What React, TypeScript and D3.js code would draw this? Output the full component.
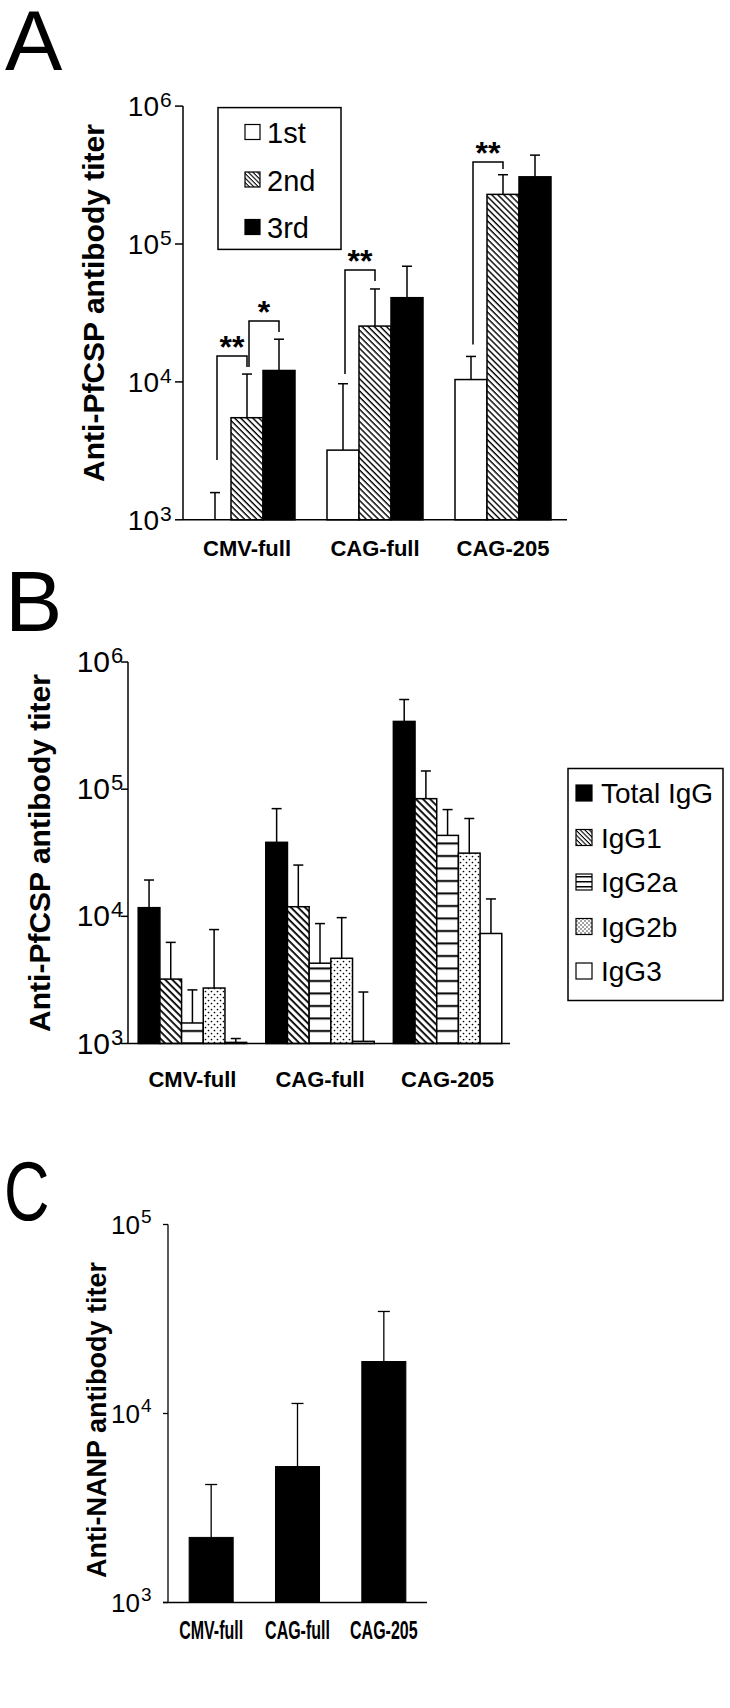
import React from "react";
import * as d3 from "d3";

// ---------- DATA ----------
const categories = ["CMV-full", "CAG-full", "CAG-205"];

// Panel A: anti-PfCSP titer after each immunization
const doseLabels = ["1st", "2nd", "3rd"];
const dose1Mean = [1000, 3200, 10400];
const dose1Upper = [1575, 9700, 15300];
const dose2Mean = [5500, 25400, 229000];
const dose2Upper = [11400, 47200, 318000];
const dose3Mean = [12100, 40800, 307000];
const dose3Upper = [20400, 69000, 441000];
const tickExpA = [3, 4, 5, 6];

// significance brackets (panel A)
const sigGroup = [0, 0, 1, 2];
const sigFrom = [0, 1, 0, 0];
const sigTo = [1, 2, 1, 1];
const sigLevel = [15400, 27650, 64800, 394000];
const sigFromEnd = [2710, 12830, 11410, 18640];
const sigToEnd = [12830, 23000, 53900, 350000];
const sigLabel = ["**", "*", "**", "**"];

// Panel B: IgG subclasses
const subclassLabels = ["Total IgG", "IgG1", "IgG2a", "IgG2b", "IgG3"];
const totalIgGMean = [11700, 38200, 341000];
const totalIgGUpper = [19300, 70300, 507000];
const igg1Mean = [3210, 11900, 84200];
const igg1Upper = [6240, 25300, 139000];
const igg2aMean = [1450, 4280, 43300];
const igg2aUpper = [2640, 8770, 69100];
const igg2bMean = [2730, 4680, 31400];
const igg2bUpper = [7870, 9770, 58800];
const igg3Mean = [1020, 1040, 7330];
const igg3Upper = [1094, 2540, 13700];
const tickExpB = [3, 4, 5, 6];

// Panel C: anti-NANP titer
const nanpMean = [2210, 5240, 18840];
const nanpUpper = [4210, 11300, 34660];
const tickExpC = [3, 4, 5];

const FONT = "'Liberation Sans', Arial, Helvetica, sans-serif";

type Series = { name: string; mean: number[]; upper: number[]; fill: string };

function BarGroupChart(props: {
  series: Series[];
  x: d3.ScaleBand<string>;
  y: d3.ScaleLogarithmic<number, number>;
  capHalf: number;
  lineW: number;
  errW: number;
}) {
  const { series, x, y, capHalf, lineW, errW } = props;
  const sub = d3
    .scaleBand<string>()
    .domain(series.map((s) => s.name))
    .range([0, x.bandwidth()]);
  const base = y(1000);
  const out: React.ReactNode[] = [];
  categories.forEach((cat, ci) => {
    series.forEach((s) => {
      const x0 = (x(cat) as number) + (sub(s.name) as number);
      const w = sub.bandwidth();
      const yt = y(s.mean[ci]);
      const cx = x0 + w / 2;
      const ye = y(s.upper[ci]);
      out.push(
        <g key={cat + s.name}>
          <line x1={cx} x2={cx} y1={yt} y2={ye} stroke="#000" strokeWidth={errW} />
          <line x1={cx - capHalf} x2={cx + capHalf} y1={ye} y2={ye} stroke="#000" strokeWidth={errW} />
          <rect x={x0} y={yt} width={w} height={Math.max(0, base - yt)} fill={s.fill} stroke="#000" strokeWidth={lineW} />
        </g>
      );
    });
  });
  return <g>{out}</g>;
}

function LogAxis(props: {
  y: d3.ScaleLogarithmic<number, number>;
  exps: number[];
  axisX: number;
  tickLen: number;
  labelEnd: number;
  fontSize: number;
  supSize: number;
  baseOff: number;
  supOff: number;
  lineW: number;
}) {
  const { y, exps, axisX, tickLen, labelEnd, fontSize, supSize, baseOff, supOff, lineW } = props;
  const [d0, d1] = y.domain();
  return (
    <g fontFamily={FONT}>
      <line x1={axisX} x2={axisX} y1={y(d0)} y2={y(d1)} stroke="#000" strokeWidth={lineW} />
      {exps.map((e) => {
        const v = Math.pow(10, e);
        const yy = y(v);
        return (
          <g key={e}>
            <line x1={axisX - tickLen} x2={axisX} y1={yy} y2={yy} stroke="#000" strokeWidth={lineW} />
            <text x={labelEnd} y={yy + baseOff} textAnchor="end" fontSize={fontSize}>
              10
            </text>
            <text x={labelEnd + 1} y={yy + supOff} fontSize={supSize}>
              {String(e)}
            </text>
          </g>
        );
      })}
    </g>
  );
}

export default function App() {
  // ---------------- Panel A ----------------
  const xA = d3.scaleBand<string>().domain(categories).range([183, 567]).paddingInner(0.25).paddingOuter(0.125);
  const yA = d3.scaleLog().domain([1000, 1e6]).range([519.8, 106.1]);
  const seriesA: Series[] = [
    { name: doseLabels[0], mean: dose1Mean, upper: dose1Upper, fill: "#fff" },
    { name: doseLabels[1], mean: dose2Mean, upper: dose2Upper, fill: "url(#hatchA)" },
    { name: doseLabels[2], mean: dose3Mean, upper: dose3Upper, fill: "#000" },
  ];
  const subA = d3.scaleBand<string>().domain(doseLabels).range([0, xA.bandwidth()]);
  const centerA = (g: number, s: number) =>
    (xA(categories[g]) as number) + (subA(doseLabels[s]) as number) + subA.bandwidth() / 2;

  // ---------------- Panel B ----------------
  const xB = d3.scaleBand<string>().domain(categories).range([128, 512]).paddingInner(0.15).paddingOuter(0.08);
  const yB = d3.scaleLog().domain([1000, 1e6]).range([1043.5, 662]);
  const seriesB: Series[] = [
    { name: subclassLabels[0], mean: totalIgGMean, upper: totalIgGUpper, fill: "#000" },
    { name: subclassLabels[1], mean: igg1Mean, upper: igg1Upper, fill: "url(#hatchB)" },
    { name: subclassLabels[2], mean: igg2aMean, upper: igg2aUpper, fill: "url(#hlines)" },
    { name: subclassLabels[3], mean: igg2bMean, upper: igg2bUpper, fill: "url(#dots)" },
    { name: subclassLabels[4], mean: igg3Mean, upper: igg3Upper, fill: "#fff" },
  ];
  const legendFillB = ["#000", "url(#hatchLeg)", "url(#hlinesLeg)", "url(#dotsLeg)", "#fff"];

  // ---------------- Panel C ----------------
  const xC = d3.scaleBand<string>().domain(categories).range([168, 427]).paddingInner(0.49).paddingOuter(0.245);
  const yC = d3.scaleLog().domain([1000, 1e5]).range([1602.5, 1224.5]);
  const seriesC: Series[] = [{ name: "NANP", mean: nanpMean, upper: nanpUpper, fill: "#000" }];

  return (
    <svg
      width={730}
      height={1708}
      viewBox="0 0 730 1708"
      style={{ position: "absolute", left: 0, top: 0, display: "block", background: "#fff" }}
      fontFamily={FONT}
    >
      <defs>
        <pattern id="hatchA" patternUnits="userSpaceOnUse" width={4.3} height={4.3} patternTransform="rotate(45)">
          <rect width={4.3} height={4.3} fill="#fff" />
          <rect width={4.3} height={1.4} fill="#000" />
        </pattern>
        <pattern id="hatchB" patternUnits="userSpaceOnUse" width={5} height={5} patternTransform="rotate(45)">
          <rect width={5} height={5} fill="#fff" />
          <rect width={5} height={1.8} fill="#000" />
        </pattern>
        <pattern id="hatchLeg" patternUnits="userSpaceOnUse" width={3.2} height={3.2} patternTransform="rotate(45)">
          <rect width={3.2} height={3.2} fill="#fff" />
          <rect width={3.2} height={1.1} fill="#000" />
        </pattern>
        <pattern id="hlines" patternUnits="userSpaceOnUse" width={10} height={12.5}>
          <rect width={10} height={12.5} fill="#fff" />
          <rect y={5} width={10} height={2} fill="#000" />
        </pattern>
        <pattern id="hlinesLeg" patternUnits="userSpaceOnUse" width={10} height={5}>
          <rect width={10} height={5} fill="#fff" />
          <rect y={1} width={10} height={1.5} fill="#000" />
        </pattern>
        <pattern id="dots" patternUnits="userSpaceOnUse" width={6} height={6}>
          <rect width={6} height={6} fill="#fff" />
          <circle cx={1.5} cy={1.5} r={0.85} fill="#000" />
          <circle cx={4.5} cy={4.5} r={0.85} fill="#000" />
        </pattern>
        <pattern id="dotsLeg" patternUnits="userSpaceOnUse" width={4} height={4}>
          <rect width={4} height={4} fill="#fff" />
          <circle cx={1} cy={1} r={0.7} fill="#000" />
          <circle cx={3} cy={3} r={0.7} fill="#000" />
        </pattern>
      </defs>
      <rect width={730} height={1708} fill="#fff" />

      {/* ================= Panel A ================= */}
      <text x={5} y={70} fontSize={86}>A</text>
      <LogAxis y={yA} exps={tickExpA} axisX={183} tickLen={8} labelEnd={159} fontSize={28} supSize={21} baseOff={10} supOff={1} lineW={1.5} />
      <text transform="translate(104,303) rotate(-90)" textAnchor="middle" fontSize={30} fontWeight="bold">
        Anti-PfCSP antibody titer
      </text>
      <BarGroupChart series={seriesA} x={xA} y={yA} capHalf={5} lineW={1.5} errW={1.5} />
      <line x1={183} x2={567} y1={yA(1000)} y2={yA(1000)} stroke="#000" strokeWidth={1.5} />
      {categories.map((c) => (
        <text key={c} x={(xA(c) as number) + xA.bandwidth() / 2} y={556} textAnchor="middle" fontSize={22} fontWeight="bold">
          {c}
        </text>
      ))}
      {sigLabel.map((lab, i) => {
        const xl = centerA(sigGroup[i], sigFrom[i]) + 2;
        const xr = centerA(sigGroup[i], sigTo[i]);
        const yl = yA(sigLevel[i]);
        return (
          <g key={i}>
            <path
              d={`M${xl},${yA(sigFromEnd[i])}V${yl}H${xr}V${yA(sigToEnd[i])}`}
              fill="none"
              stroke="#000"
              strokeWidth={1.5}
            />
            <text x={(xl + xr) / 2} y={yl + 2} textAnchor="middle" fontSize={32} fontWeight="bold">
              {lab}
            </text>
          </g>
        );
      })}
      {/* legend A */}
      <rect x={218} y={107.6} width={123} height={141.8} fill="#fff" stroke="#000" strokeWidth={1.5} />
      {seriesA.map((s, i) => {
        const cy = 132 + i * 47.5;
        return (
          <g key={s.name}>
            <rect x={245} y={cy - 7.5} width={15} height={15} fill={i === 1 ? "url(#hatchLeg)" : s.fill} stroke="#000" strokeWidth={1.2} />
            <text x={267} y={cy + 11} fontSize={29}>
              {s.name}
            </text>
          </g>
        );
      })}

      {/* ================= Panel B ================= */}
      <text x={5} y={631} fontSize={86}>B</text>
      <LogAxis y={yB} exps={tickExpB} axisX={128} tickLen={7} labelEnd={110} fontSize={30} supSize={22} baseOff={10} supOff={1} lineW={1.5} />
      <text transform="translate(50,853) rotate(-90)" textAnchor="middle" fontSize={30} fontWeight="bold">
        Anti-PfCSP antibody titer
      </text>
      <BarGroupChart series={seriesB} x={xB} y={yB} capHalf={5} lineW={1.5} errW={1.5} />
      <line x1={128} x2={510} y1={yB(1000)} y2={yB(1000)} stroke="#000" strokeWidth={1.5} />
      {categories.map((c) => (
        <text key={c} x={(xB(c) as number) + xB.bandwidth() / 2} y={1087} textAnchor="middle" fontSize={22} fontWeight="bold">
          {c}
        </text>
      ))}
      {/* legend B */}
      <rect x={568} y={768.5} width={155} height={232} fill="#fff" stroke="#000" strokeWidth={1.5} />
      {seriesB.map((s, i) => {
        const cy = 793 + i * 44.5;
        return (
          <g key={s.name}>
            <rect x={576} y={cy - 8} width={16} height={16} fill={legendFillB[i]} stroke="#000" strokeWidth={1.2} />
            <text x={601} y={cy + 10} fontSize={28}>
              {s.name}
            </text>
          </g>
        );
      })}

      {/* ================= Panel C ================= */}
      <text transform="translate(4,1220) scale(0.75,1)" x={0} y={0} fontSize={84}>C</text>
      <LogAxis y={yC} exps={tickExpC} axisX={168} tickLen={5} labelEnd={140} fontSize={26} supSize={19} baseOff={9} supOff={-2} lineW={1.3} />
      <text transform="translate(106,1420) rotate(-90)" textAnchor="middle" fontSize={27} fontWeight="bold">
        Anti-NANP antibody titer
      </text>
      <BarGroupChart series={seriesC} x={xC} y={yC} capHalf={6} lineW={1} errW={1.3} />
      <line x1={163} x2={427} y1={yC(1000)} y2={yC(1000)} stroke="#000" strokeWidth={1.3} />
      {categories.map((c) => (
        <text
          key={c}
          transform={`translate(${(xC(c) as number) + xC.bandwidth() / 2},1639) scale(0.64,1)`}
          textAnchor="middle"
          fontSize={25}
          fontWeight="bold"
        >
          {c}
        </text>
      ))}
    </svg>
  );
}
